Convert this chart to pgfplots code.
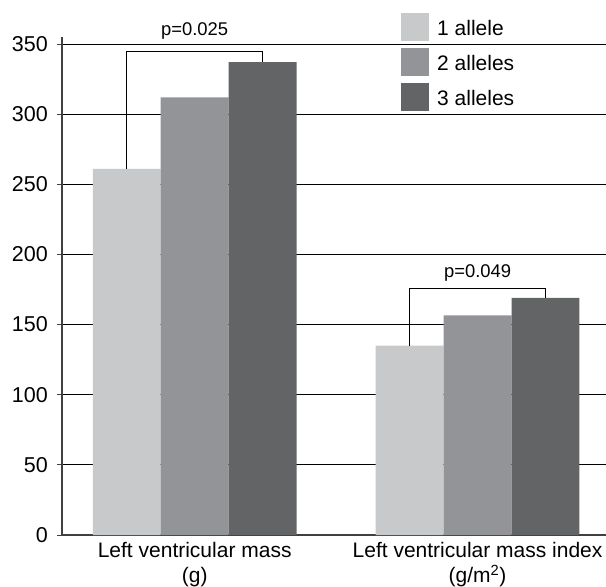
\documentclass[border=0pt]{standalone}
\usepackage{fontspec}
\setmainfont{Liberation Sans}
\usepackage{pgfplots}
\pgfplotsset{compat=1.18}
\definecolor{c1}{HTML}{C8C9CB}
\definecolor{c2}{HTML}{939498}
\definecolor{c3}{HTML}{636466}
\begin{document}
\fontsize{21}{25}\selectfont
\begin{tikzpicture}
\begin{axis}[
  name=ax, at={(0,0)}, anchor=south west,
  scale only axis, width=544pt, height=498pt,
  xmin=-0.469, xmax=1.454, ymin=0, ymax=355,
  clip=false,
  axis lines*=left,
  axis line style={draw=black!75, line width=1.3pt},
  ytick={0,50,...,350},
  tick align=outside, major tick length=5pt,
  ytick style={draw=black!75, line width=1pt},
  xtick={0,1}, xtick style={draw=none},
  xticklabels={{Left ventricular mass\\(g)},{Left ventricular mass index\\(g/m\textsuperscript{2})}},
  xticklabel style={align=center, inner sep=2.5pt, font=\fontsize{21}{25}\selectfont},
  yticklabel style={inner sep=0pt, xshift=-9pt, font=\fontsize{21.5}{25}\selectfont},
  /pgf/number format/assume math mode=true,
  ymajorgrids, grid style={black, line width=0.9pt},
  legend style={at={(0.6232,1.0482)}, anchor=north west, draw=none, fill=none,
    inner sep=0pt, font=\fontsize{21}{25}\selectfont, row sep=7pt, column sep=7pt,
    nodes={inner sep=1pt}},
  legend cell align=left,
  legend image code/.code={\fill[#1,draw=none] (0pt,-12pt) rectangle (28pt,16pt);},
]
\addplot[ybar, bar width=0.24, bar shift=-0.24, fill=c1, draw=none] coordinates {(0,261) (1,135)};
\addlegendentry{1 allele}
\addplot[ybar, bar width=0.24, bar shift=0, fill=c2, draw=none] coordinates {(0,312) (1,156.5)};
\addlegendentry{2 alleles}
\addplot[ybar, bar width=0.24, bar shift=0.24, fill=c3, draw=none] coordinates {(0,337) (1,169)};
\addlegendentry{3 alleles}
\draw[black, line width=0.9pt] (axis cs:-0.24,261) -- (axis cs:-0.24,345) -- (axis cs:0.24,345) -- (axis cs:0.24,337);
\draw[black, line width=0.9pt] (axis cs:0.76,135) -- (axis cs:0.76,175.5) -- (axis cs:1.24,175.5) -- (axis cs:1.24,169);
\node[anchor=base, inner sep=0pt, font=\fontsize{18.4}{20}\selectfont] at (axis cs:0,345) [yshift=16pt] {p=0.025};
\node[anchor=base, inner sep=0pt, font=\fontsize{18.4}{20}\selectfont] at (axis cs:1,175.5) [yshift=11pt] {p=0.049};
\end{axis}
\pgfresetboundingbox
\path (-62pt,-52pt) rectangle (544pt,535pt);
\end{tikzpicture}
\end{document}
